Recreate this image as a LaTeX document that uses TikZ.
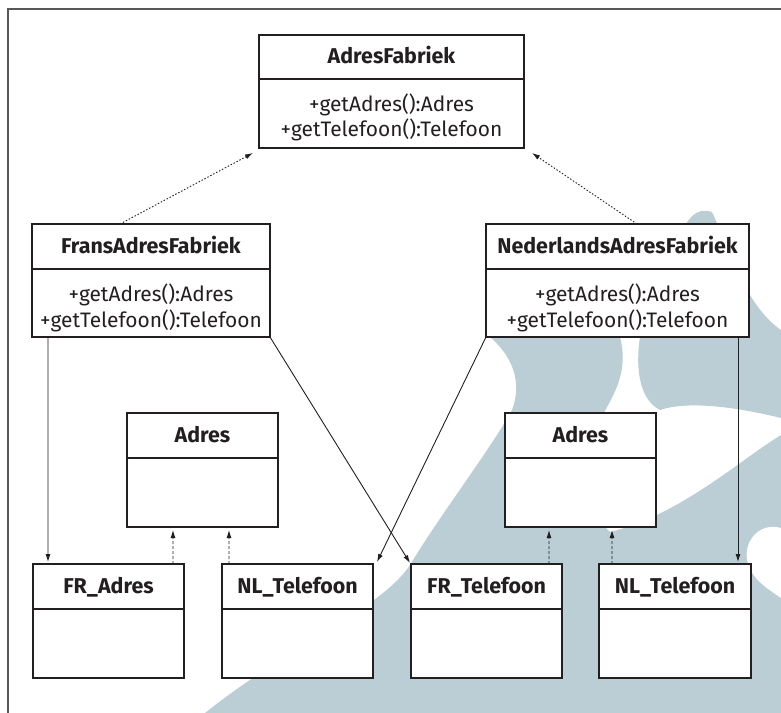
\documentclass[tikz,border=0pt]{standalone}
\usepackage{fontspec}
\setmainfont{Fira Sans}
\usetikzlibrary{arrows.meta}
\definecolor{wm}{RGB}{187,205,213}
\definecolor{ink}{RGB}{35,31,32}
\tikzset{
  cls/.style={draw=ink, fill=white, line width=1.1bp, rectangle, anchor=north west, inner sep=0pt, outer sep=0pt},
  ttl/.style={anchor=base, font=\fontsize{21.5}{25}\selectfont\bfseries, text=ink, inner sep=0pt},
  mth/.style={anchor=base, font=\fontsize{21}{25}\selectfont, text=ink, inner sep=0pt},
  assoc/.style={draw=ink, line width=0.9bp, -{Latex[length=8bp,width=5bp]}},
  real/.style={draw=ink, line width=0.9bp, dash pattern=on 1.5bp off 1.8bp, -{Latex[length=8bp,width=5bp]}},
  dep/.style={draw=ink, line width=0.9bp, dash pattern=on 3bp off 2bp, -{Latex[length=8bp,width=5bp]}},
  frame/.style={draw=ink!75, line width=2bp},
}
\newcommand\umlclass[7]{%
  \node[cls, minimum width={(#4-#2)*1bp}, minimum height={(#5-#3)*1bp}] (#1) at (#2,#3) {};
  \draw[ink, line width=1.1bp] (#2,#6) -- (#4,#6);
  \node[ttl] (#1-t) at ({(#2+#4)/2},{(#3+#6)/2+6.5}) {#7};
}
\begin{document}
\begin{tikzpicture}[x=1bp,y=-1bp]
\useasboundingbox (0,0) rectangle (781,713);
% watermark
\fill[wm] (205,713) .. controls (290,645) and (380,610) .. (410,565)
  .. controls (440,515) and (490,450) .. (512,410)
  .. controls (525,375) and (505,350) .. (490,337) -- (620,337)
  .. controls (630,375) and (610,400) .. (600,420)
  .. controls (588,460) and (590,515) .. (610,532)
  .. controls (680,515) and (740,460) .. (781,435) -- (781,713) -- cycle;
\fill[white] (781,528) .. controls (760,522) and (744,540) .. (747,560)
  .. controls (751,580) and (770,590) .. (781,598) -- cycle;
\fill[wm] (686,224) .. controls (692,214) and (700,208) .. (712,212)
  .. controls (730,250) and (745,305) .. (781,330) -- (781,418)
  .. controls (740,408) and (690,400) .. (660,410)
  .. controls (640,400) and (635,370) .. (640,337) -- cycle;
% frame
\draw[frame] (8,713) -- (8,9) -- (781,9);
% classes
\umlclass{af}{259}{35}{524}{148}{79}{AdresFabriek}
\node[mth] (af-m1) at (391.5,112) {+getAdres():Adres};
\node[mth] (af-m2) at (391.5,137) {+getTelefoon():Telefoon};
\umlclass{fraf}{32}{224}{270}{337}{269}{FransAdresFabriek}
\node[mth] (fraf-m1) at (151,301) {+getAdres():Adres};
\node[mth] (fraf-m2) at (151,327) {+getTelefoon():Telefoon};
\umlclass{nlaf}{486}{224}{749}{337}{269}{NederlandsAdresFabriek}
\node[mth] (nlaf-m1) at (617.5,301) {+getAdres():Adres};
\node[mth] (nlaf-m2) at (617.5,327) {+getTelefoon():Telefoon};
\umlclass{adresL}{127}{413}{278}{527}{458}{Adres}
\umlclass{adresR}{505}{413}{656}{527}{458}{Adres}
\umlclass{fradres}{33}{564}{184}{678}{609}{FR\_Adres}
\umlclass{nltelL}{222}{564}{373}{678}{609}{NL\_Telefoon}
\umlclass{frtel}{411}{564}{562}{678}{609}{FR\_Telefoon}
\umlclass{nltelR}{599}{564}{751}{678}{609}{NL\_Telefoon}
% connectors
\draw[real] ([xshift=88bp]fraf.north west) -- ([xshift=-6bp,yshift=-5bp]af.south west);
\draw[real] ([xshift=-112bp]nlaf.north east) -- ([xshift=8bp,yshift=-5bp]af.south east);
\draw[assoc] ([xshift=16bp]fraf.south west) -- ([xshift=15bp,yshift=2bp]fradres.north west);
\draw[assoc] (fraf.south east) -- ([xshift=-1bp,yshift=1bp]frtel.north west);
\draw[assoc] (nlaf.south west) -- ([xshift=4bp,yshift=2bp]nltelL.north east);
\draw[assoc] ([xshift=-11bp]nlaf.south east) -- ([xshift=-13bp,yshift=2bp]nltelR.north east);
\draw[dep] ([xshift=-11bp]fradres.north east) -- ([xshift=46bp,yshift=-3bp]adresL.south west);
\draw[dep] ([xshift=7bp]nltelL.north west) -- ([xshift=102bp,yshift=-3bp]adresL.south west);
\draw[dep] ([xshift=-13bp]frtel.north east) -- ([xshift=44bp,yshift=-3bp]adresR.south west);
\draw[dep] ([xshift=13bp]nltelR.north west) -- ([xshift=107bp,yshift=-3bp]adresR.south west);
\end{tikzpicture}
\end{document}
